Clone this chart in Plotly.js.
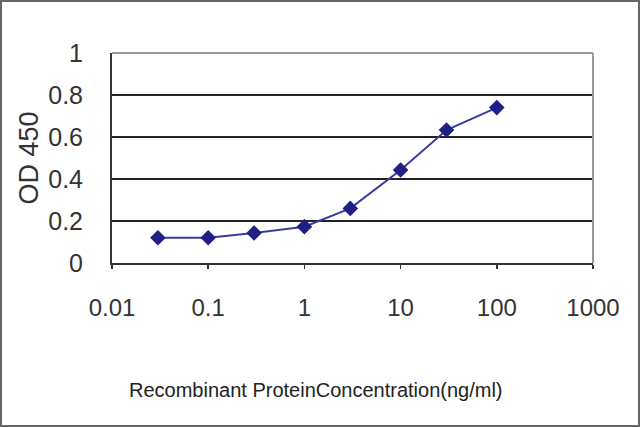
<!DOCTYPE html>
<html>
<head>
<meta charset="utf-8">
<script src="https://cdn.plot.ly/plotly-3.0.1.min.js"></script>
<style>html,body{margin:0;padding:0;background:#fff;}#chart{width:640px;height:427px;}</style>
</head>
<body>
<div id="chart"></div>
<script>
const concentrations = [0.03, 0.1, 0.3, 1, 3, 10, 30, 100];
const od450 = [0.12, 0.12, 0.143, 0.173, 0.26, 0.443, 0.633, 0.74];
const xTickVals = [0.01, 0.1, 1, 10, 100, 1000];
const xTickText = ['0.01', '0.1', '1', '10', '100', '1000'];
const yTickVals = [0, 0.2, 0.4, 0.6, 0.8, 1];
const yTickText = ['0', '0.2', '0.4', '0.6', '0.8', '1'];
const xTitle = 'Recombinant ProteinConcentration(ng/ml)';
const yTitle = 'OD 450';

const W = 640, H = 427;
const m = {l: 112, r: 47, t: 53, b: 164};
const pw = W - m.l - m.r, ph = H - m.t - m.b;

const trace = {
  x: concentrations, y: od450, type: 'scatter', mode: 'lines+markers',
  line: {color: '#3b3ba3', width: 2},
  marker: {symbol: 'diamond', size: 12, color: '#1f1f85'},
  hoverinfo: 'skip', showlegend: false
};

const font = 'Arial, "Liberation Sans", sans-serif';
const layout = {
  width: W, height: H,
  margin: m,
  paper_bgcolor: '#fff', plot_bgcolor: '#fff',
  showlegend: false,
  xaxis: {
    type: 'log', range: [-2, 3],
    tickvals: xTickVals, ticktext: xTickText,
    ticks: 'outside', ticklen: 4, tickcolor: '#333', tickwidth: 1.5,
    showgrid: false, zeroline: false,
    showline: true, linecolor: '#333', linewidth: 2,
    tickfont: {family: font, size: 24, color: '#333'},
    ticklabelstandoff: 18
  },
  yaxis: {
    range: [0, 1],
    tickvals: yTickVals, ticktext: yTickText,
    ticks: '', showgrid: true, gridcolor: '#222', gridwidth: 1.6,
    zeroline: false, showline: true, linecolor: '#333', linewidth: 2,
    tickfont: {family: font, size: 25, color: '#333'},
    ticklabelstandoff: 22,
    title: {text: yTitle, font: {family: font, size: 27, color: '#333'}, standoff: 2}
  },
  annotations: [
    {text: xTitle, xref: 'paper', yref: 'paper', x: (316 - m.l) / pw, y: (m.t + ph - 390) / ph,
     xanchor: 'center', yanchor: 'middle', showarrow: false,
     font: {family: font, size: 20, color: '#222'}}
  ],
  shapes: [
    {type: 'line', xref: 'paper', yref: 'paper', x0: 0, x1: 1, y0: 1, y1: 1, line: {color: '#9a9a9a', width: 2}, layer: 'above'},
    {type: 'line', xref: 'paper', yref: 'paper', x0: 1, x1: 1, y0: 0, y1: 1, line: {color: '#9a9a9a', width: 2}, layer: 'above'},
    {type: 'rect', xref: 'paper', yref: 'paper',
     x0: -(m.l - 1) / pw, x1: 1 + (m.r - 1) / pw, y0: -(m.b - 1) / ph, y1: 1 + (m.t - 1) / ph,
     line: {color: '#666', width: 2}, layer: 'above'}
  ]
};

Plotly.newPlot('chart', [trace], layout, {displayModeBar: false, staticPlot: true});
</script>
</body>
</html>
